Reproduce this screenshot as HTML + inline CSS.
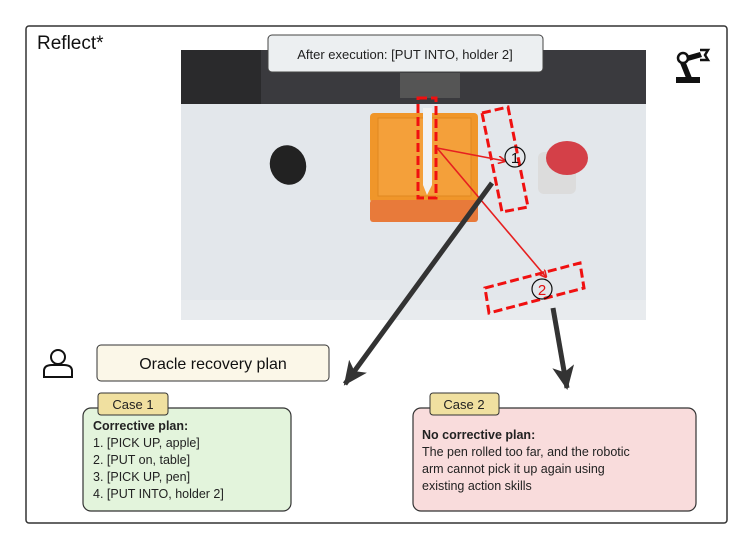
<!DOCTYPE html>
<html><head><style>body{margin:0;background:#fff}svg{display:block;font-family:"Liberation Sans",sans-serif}</style></head><body>
<svg width="753" height="550" viewBox="0 0 753 550">
<defs>
<marker id="ra" markerWidth="8" markerHeight="8" refX="7" refY="4" orient="auto" markerUnits="userSpaceOnUse"><path d="M0,0 L8,4 L0,8" fill="none" stroke="#e62020" stroke-width="1.6"/></marker>
<marker id="ba" markerWidth="26" markerHeight="26" refX="22" refY="13" orient="auto" markerUnits="userSpaceOnUse"><path d="M0,2 L24,13 L0,24 L6,13Z" fill="#333"/></marker>
</defs>
<rect x="26" y="26" width="701" height="497" rx="3" fill="#fff" stroke="#333" stroke-width="1.5"/>
<text x="37" y="49" font-size="19" fill="#111">Reflect*</text>
<rect x="181" y="50" width="465" height="270" fill="#e3e7eb"/>
<rect x="181" y="50" width="465" height="54" fill="#3a3a3e"/>
<rect x="181" y="50" width="80" height="54" fill="#2a2a2c"/>
<rect x="181" y="300" width="465" height="20" fill="#e8ebee"/>
<rect x="400" y="73" width="60" height="25" fill="#555"/>
<ellipse cx="288" cy="165" rx="18" ry="20" fill="#222" transform="rotate(-20 288 165)"/>
<rect x="538" y="152" width="38" height="42" rx="6" fill="#dcdcdc"/>
<ellipse cx="567" cy="158" rx="21" ry="17" fill="#d44048"/>
<rect x="370" y="113" width="108" height="90" rx="4" fill="#f0962a"/>
<rect x="378" y="118" width="93" height="78" fill="#f4a03a" stroke="#e08820"/>
<rect x="370" y="200" width="108" height="22" rx="3" fill="#e87a3a"/>
<path d="M423,108 L432,108 L432,185 L427,195 L423,185Z" fill="#f2f2f2"/>
<rect x="418" y="98" width="18" height="100" fill="none" stroke="#f01010" stroke-width="3" stroke-dasharray="9,4"/>
<polygon points="482,113 508,107 528,207 502,212" fill="none" stroke="#f01010" stroke-width="3" stroke-dasharray="9,4"/>
<polygon points="485,288 580,263 584,288 489,313" fill="none" stroke="#f01010" stroke-width="3" stroke-dasharray="9,4"/>
<line x1="437" y1="148" x2="505" y2="161" stroke="#e62020" stroke-width="1.6" marker-end="url(#ra)"/>
<line x1="437" y1="148" x2="546" y2="277" stroke="#e62020" stroke-width="1.6" marker-end="url(#ra)"/>
<circle cx="515" cy="157" r="10" fill="none" stroke="#111" stroke-width="1.2"/>
<text x="515" y="163" font-size="15" fill="#111" text-anchor="middle">1</text>
<circle cx="542" cy="289" r="10" fill="none" stroke="#111" stroke-width="1.2"/>
<text x="542" y="295" font-size="15" fill="#e01010" text-anchor="middle">2</text>
<rect x="268" y="35" width="275" height="37" rx="4" fill="#eceff1" stroke="#444"/>
<text x="405" y="59" font-size="13" fill="#222" text-anchor="middle">After execution: [PUT INTO, holder 2]</text>
<g fill="#111"><circle cx="683" cy="58" r="5" fill="none" stroke="#111" stroke-width="2.5"/><rect x="676" y="77" width="24" height="6"/><path d="M680,63 L686,63 L692,78 L686,78Z"/><path d="M686,56 L700,52 L702,57 L688,61Z"/><path d="M700,50 L708,50 L705,55 L708,60 L700,60" fill="none" stroke="#111" stroke-width="2.5"/></g>
<line x1="492" y1="183" x2="345" y2="384" stroke="#333" stroke-width="5" marker-end="url(#ba)"/>
<line x1="553" y1="308" x2="567" y2="388" stroke="#333" stroke-width="5" marker-end="url(#ba)"/>
<circle cx="58" cy="357" r="7" fill="none" stroke="#111" stroke-width="2"/>
<path d="M44,377 L44,371 Q44,365 52,365 L64,365 Q72,365 72,371 L72,377Z" fill="none" stroke="#111" stroke-width="2"/>
<rect x="97" y="345" width="232" height="36" rx="4" fill="#fbf7e8" stroke="#333"/>
<text x="213" y="369" font-size="16" fill="#111" text-anchor="middle">Oracle recovery plan</text>
<rect x="83" y="408" width="208" height="103" rx="8" fill="#e3f4dc" stroke="#333" stroke-width="1.2"/>
<rect x="98" y="393" width="70" height="22" rx="3" fill="#f0e0a0" stroke="#333"/>
<text x="133" y="409" font-size="13" fill="#222" text-anchor="middle">Case 1</text>
<g font-size="12.5" fill="#222"><text x="93" y="430" font-weight="bold">Corrective plan:</text>
<text x="93" y="447">1. [PICK UP, apple]</text><text x="93" y="464">2. [PUT on, table]</text><text x="93" y="481">3. [PICK UP, pen]</text><text x="93" y="498">4. [PUT INTO, holder 2]</text></g>
<rect x="413" y="408" width="283" height="103" rx="8" fill="#f9dcdc" stroke="#333" stroke-width="1.2"/>
<rect x="430" y="393" width="69" height="22" rx="3" fill="#f0e0a0" stroke="#333"/>
<text x="464" y="409" font-size="13" fill="#222" text-anchor="middle">Case 2</text>
<g font-size="12.5" fill="#222"><text x="422" y="439" font-weight="bold">No corrective plan:</text>
<text x="422" y="456">The pen rolled too far, and the robotic</text><text x="422" y="473">arm cannot pick it up again using</text><text x="422" y="490">existing action skills</text></g>
</svg>
</body></html>
